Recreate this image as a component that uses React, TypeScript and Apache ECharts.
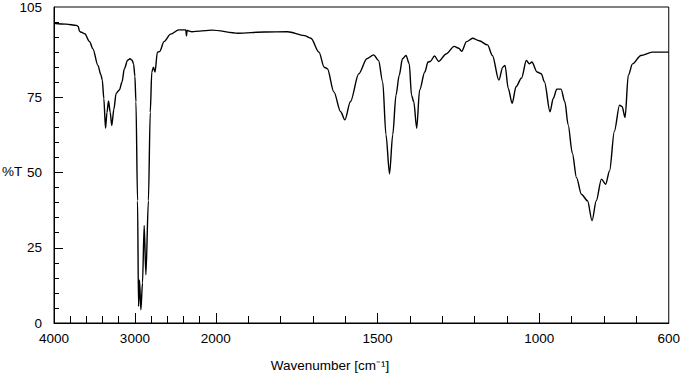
import React, { useEffect, useRef } from "react";
import * as echarts from "echarts";

// Wavenumber (cm-1) and transmittance (%T)
const wavenumbers = [
  4000, 3850, 3722, 3700, 3685, 3660, 3620, 3560, 3519, 3457, 3420, 3403, 3384, 3363, 3345, 3326, 3305, 3286, 3260, 3232,
  3192, 3160, 3130, 3090, 3060, 3035, 3016, 3000, 2987, 2967, 2955, 2943, 2926, 2906, 2885, 2864, 2833, 2810, 2791, 2771,
  2751, 2722, 2693, 2640, 2558, 2457, 2370, 2362, 2355, 2294, 2200, 2049, 1931, 1850, 1778, 1726, 1706, 1681, 1665, 1655,
  1635, 1614, 1601, 1584, 1558, 1533, 1512, 1497, 1484, 1474, 1463, 1453, 1443, 1433, 1423, 1412, 1402, 1395, 1388, 1379,
  1370, 1354, 1344, 1337, 1324, 1311, 1288, 1263, 1249, 1240, 1225, 1206, 1186, 1160, 1145, 1125, 1113, 1106, 1096, 1084,
  1072, 1055, 1040, 1031, 1023, 1007, 994, 984, 967, 957, 946, 933, 921, 911, 898, 885, 870, 851, 837, 824,
  808, 795, 783, 768, 752, 744, 735, 725, 712, 686, 651, 600,
];
const transmittance = [
  99.6, 99.3, 98.9, 98.5, 96.9, 96.6, 96.1, 93.5, 91.1, 85.6, 82.5, 80.7, 74.6, 64.7, 70.0, 73.8, 70.0, 65.6, 71.0, 76.3,
  77.4, 80.0, 84.5, 87.3, 87.8, 87.3, 86.1, 82.0, 73.5, 40.6, 5.5, 14.3, 4.4, 13.3, 32.4, 16.0, 40.6, 70.0, 83.4, 85.0,
  83.4, 90.0, 90.2, 93.5, 96.0, 97.4, 97.4, 95.4, 97.2, 96.8, 97.0, 97.3, 96.3, 96.7, 96.8, 95.5, 94.6, 90.0, 85.0, 84.5,
  76.8, 70.2, 67.5, 73.5, 82.8, 87.8, 89.1, 87.2, 80.1, 62.6, 49.6, 62.6, 75.7, 82.3, 87.8, 88.9, 86.1, 75.7, 73.5, 64.7,
  77.4, 83.4, 86.7, 86.9, 88.7, 86.9, 89.4, 91.9, 91.3, 90.3, 93.5, 94.6, 93.8, 92.4, 88.9, 80.7, 85.0, 85.6, 77.9, 73.0,
  78.5, 81.4, 87.2, 86.1, 86.7, 83.4, 82.8, 80.1, 70.2, 74.6, 77.7, 77.7, 73.5, 65.9, 56.5, 48.3, 42.8, 40.6, 34.0, 40.6,
  47.8, 46.1, 50.5, 63.7, 72.4, 71.9, 68.3, 82.3, 86.1, 88.9, 90.0, 90.0,
];

const xTickLabels = [4000, 3000, 2000, 1500, 1000, 600];
const xMajorTicks = [3000, 2000, 1500, 1000];
const xMinorTicks = [3800, 3600, 3400, 3200, 2800, 2600, 2400, 2200, 1900, 1800, 1700, 1600, 1400, 1300, 1200, 1100, 900, 800, 700];
const yTickLabels = [0, 25, 50, 75, 105];
const yMajorTicks = [25, 50, 75];
const yMinorTicks = [5, 10, 15, 20, 30, 35, 40, 45, 55, 60, 65, 70, 80, 85, 90, 95, 100];

// The x scale changes at 2000 cm-1: 4000-2000 is compressed 4x
function toAxis(w: number): number {
  return w >= 2000 ? (4000 - w) / 4 : 500 + (2000 - w);
}
function fromAxis(u: number): number {
  return u <= 500 ? 4000 - 4 * u : 2000 - (u - 500);
}

const FONT = "'Liberation Sans', Arial, sans-serif";

export default function App() {
  const ref = useRef<HTMLDivElement>(null);
  useEffect(() => {
    if (!ref.current) return;
    const chart = echarts.init(ref.current, undefined, { renderer: "svg" });
    const data = wavenumbers.map((w, i) => [toAxis(w), transmittance[i]]);
    const labelStyle = { color: "#000", fontSize: 13.5, fontFamily: FONT };
    chart.setOption({
      animation: false,
      backgroundColor: "#fff",
      grid: {
        left: 54,
        right: 9.5,
        top: 5,
        bottom: 52,
        show: true,
        borderColor: "#000",
        borderWidth: 1,
        backgroundColor: "transparent",
      },
      xAxis: [
        {
          type: "value",
          min: 0,
          max: 1900,
          position: "bottom",
          splitLine: { show: false },
          axisLine: { show: true, lineStyle: { color: "#000", width: 1 } },
          axisTick: {
            show: true,
            inside: true,
            length: 10,
            customValues: xMajorTicks.map(toAxis),
            lineStyle: { color: "#000", width: 1 },
          },
          axisLabel: {
            ...labelStyle,
            margin: 8,
            customValues: xTickLabels.map(toAxis),
            showMinLabel: true,
            showMaxLabel: true,
            formatter: (v: number) => String(Math.round(fromAxis(v))),
          },
        },
        {
          type: "value",
          min: 0,
          max: 1900,
          position: "bottom",
          splitLine: { show: false },
          axisLine: { show: false },
          axisTick: {
            show: true,
            inside: true,
            length: 7,
            customValues: xMinorTicks.map(toAxis),
            lineStyle: { color: "#000", width: 1 },
          },
          axisLabel: { show: false },
        },
      ],
      yAxis: [
        {
          type: "value",
          min: 0,
          max: 105,
          position: "left",
          splitLine: { show: false },
          axisLine: { show: true, lineStyle: { color: "#000", width: 1 } },
          axisTick: {
            show: true,
            inside: true,
            length: 9,
            customValues: yMajorTicks,
            lineStyle: { color: "#000", width: 1 },
          },
          axisLabel: {
            ...labelStyle,
            margin: 12,
            customValues: yTickLabels,
            showMinLabel: true,
            showMaxLabel: true,
          },
        },
        {
          type: "value",
          min: 0,
          max: 105,
          position: "left",
          splitLine: { show: false },
          axisLine: { show: false },
          axisTick: {
            show: true,
            inside: true,
            length: 5,
            customValues: yMinorTicks,
            lineStyle: { color: "#000", width: 1 },
          },
          axisLabel: { show: false },
        },
      ],
      graphic: [
        {
          type: "text",
          left: 2,
          top: 164,
          style: { text: "%T", fill: "#000", font: `13.5px ${FONT}` },
        },
        {
          type: "text",
          x: 330,
          y: 365,
          style: {
            text: "Wavenumber [cm⁻¹]",
            fill: "#000",
            font: `13.5px ${FONT}`,
            textAlign: "center",
            textVerticalAlign: "middle",
          },
        },
      ],
      series: [
        {
          type: "line",
          xAxisIndex: 0,
          yAxisIndex: 0,
          data,
          showSymbol: false,
          smooth: 0.3,
          smoothMonotone: "x",
          lineStyle: { color: "#000", width: 1.4 },
          silent: true,
        },
      ],
    });
    return () => chart.dispose();
  }, []);
  return (
    <div
      ref={ref}
      style={{ position: "absolute", left: 0, top: 0, width: 683, height: 375 }}
    />
  );
}
